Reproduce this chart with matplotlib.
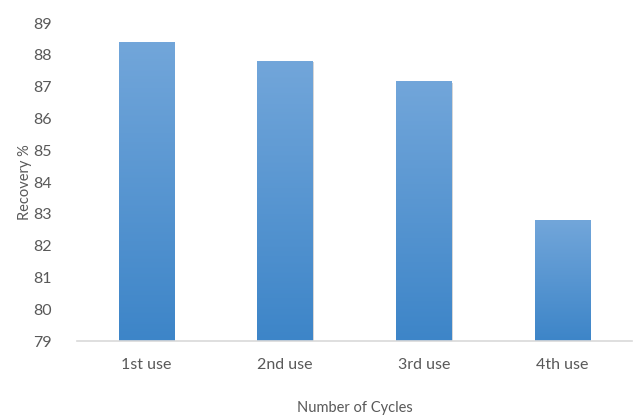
import numpy as np
import matplotlib
matplotlib.use("Agg")
import matplotlib.pyplot as plt
from matplotlib.colors import LinearSegmentedColormap

plt.rcParams['font.family'] = ['Lato', 'DejaVu Sans']

# data
cycles = ['1st use', '2nd use', '3rd use', '4th use']
recovery = [88.4, 87.8, 87.15, 82.78]

fig = plt.figure(figsize=(6.33, 4.19), dpi=100)
ax = fig.add_axes([0.122, 0.186, 0.876, 0.759])

x = np.arange(len(cycles))
bars = ax.bar(x, recovery, width=0.4, bottom=0, color='none', zorder=2)

# vertical gradient for each bar, light at the top
cmap = LinearSegmentedColormap.from_list('g', ['#3d85c8', '#72a6da'])
grad = np.linspace(0, 1, 256).reshape(-1, 1)
for b in bars:
    x0 = b.get_x()
    x1 = x0 + b.get_width()
    top = b.get_height()
    # faint shadow
    ax.fill_between([x0 + 0.008, x1 + 0.008], 79, top - 0.02,
                    color='#bbbbbb', alpha=0.6, zorder=1, lw=0)
    ax.imshow(grad, cmap=cmap, origin='lower', aspect='auto',
              extent=[x0, x1, 79, top], zorder=3, interpolation='bilinear')

ax.set_xlim(-0.5, len(cycles) - 0.5)
ax.set_ylim(79, 89)

ax.set_xticks(x)
ax.set_xticklabels(cycles)
ax.set_yticks(np.arange(79, 90, 1))
ax.tick_params(axis='both', length=0, labelsize=11.5, colors='#595959')
ax.tick_params(axis='x', pad=12)
ax.tick_params(axis='y', pad=18)

for s in ['top', 'right', 'left']:
    ax.spines[s].set_visible(False)
ax.spines['bottom'].set_color('#d9d9d9')
ax.spines['bottom'].set_linewidth(1.2)
ax.spines['bottom'].set_zorder(4)

ax.set_xlabel('Number of Cycles', fontsize=10.5, color='#595959', labelpad=21)
ax.set_ylabel('Recovery %', fontsize=10.5, color='#595959', labelpad=1)

fig.savefig('out.png', dpi=100)
